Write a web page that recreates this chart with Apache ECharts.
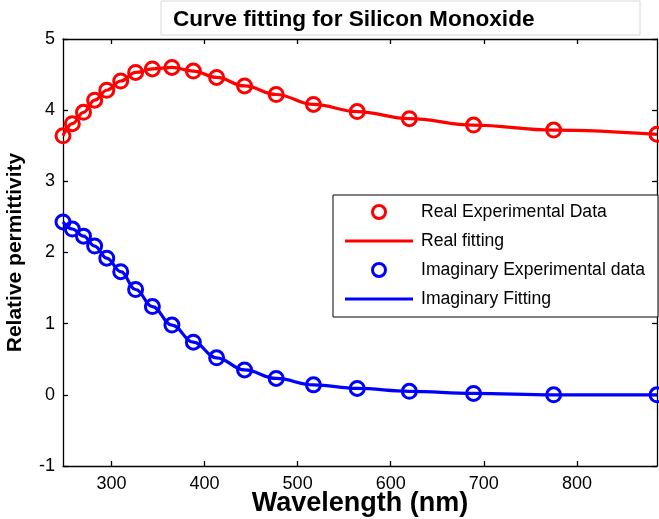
<!DOCTYPE html>
<html>
<head>
<meta charset="utf-8">
<script src="https://cdn.jsdelivr.net/npm/echarts@6/dist/echarts.min.js"></script>
<style>html,body{margin:0;padding:0;background:#fff}#c{width:659px;height:519px}</style>
</head>
<body>
<div id="c"></div>
<script>
// Wavelength (nm)
var wavelength = [248, 258, 270, 282, 295, 310, 326, 344, 365, 388, 413, 443, 477, 517, 564, 620, 689, 775, 886];
// Real part of relative permittivity (experimental)
var realData = [3.64, 3.81, 3.97, 4.14, 4.28, 4.41, 4.53, 4.58, 4.60, 4.55, 4.46, 4.34, 4.22, 4.08, 3.98, 3.88, 3.79, 3.72, 3.66];
// Imaginary part (experimental)
var imagData = [2.43, 2.33, 2.23, 2.09, 1.92, 1.73, 1.48, 1.24, 0.98, 0.74, 0.52, 0.35, 0.23, 0.14, 0.09, 0.05, 0.02, 0.00, 0.00];
var xTicks = [300, 400, 500, 600, 700, 800];
var yTicks = [-1, 0, 1, 2, 3, 4, 5];
var legendNames = ['Real Experimental Data', 'Real fitting', 'Imaginary Experimental data', 'Imaginary Fitting'];

function pairs(xs, ys) { return xs.map(function (x, i) { return [x, ys[i]]; }); }

var FONT = '"Liberation Sans", Arial, sans-serif';
var chart = echarts.init(document.getElementById('c'), null, {renderer: 'canvas'});
var lineIcon = 'path://M0,0 L68,0 L68,3 L0,3 Z';

var axisCommon = {
  axisLine: {show: true, onZero: false, lineStyle: {color: '#000', width: 1.3}},
  splitLine: {show: false}
};

chart.setOption({
  animation: false,
  backgroundColor: '#fff',
  title: {
    text: 'Curve fitting for Silicon Monoxide',
    left: 173, top: 8, padding: 0,
    textStyle: {fontFamily: FONT, fontWeight: 'bold', fontSize: 22.6, color: '#000'}
  },
  graphic: [
    {type: 'rect', left: 160.5, top: 0.5, shape: {width: 479, height: 34}, style: {fill: '#fff', stroke: '#d8d8d8', lineWidth: 1}, z: -1},
    {type: 'rect', left: 332.5, top: 194.5, shape: {width: 325, height: 122}, style: {fill: '#fff', stroke: '#000', lineWidth: 1}, z: 50}
  ],
  grid: {left: 63, right: 2, top: 39, bottom: 53, containLabel: false, outerBoundsMode: 'none'},
  legend: {
    left: 345, top: 203, orient: 'vertical', z: 60,
    itemWidth: 68, itemHeight: 13, itemGap: 11, padding: 0,
    textStyle: {fontFamily: FONT, fontSize: 17.6, color: '#000', lineHeight: 18, padding: [0, 0, 0, 3]},
    data: [
      {name: legendNames[0], icon: 'circle', itemStyle: {color: '#fff', borderColor: '#ff0000', borderWidth: 3}},
      {name: legendNames[1], icon: lineIcon, itemStyle: {color: '#ff0000', borderWidth: 0}},
      {name: legendNames[2], icon: 'circle', itemStyle: {color: '#fff', borderColor: '#0000ff', borderWidth: 3}},
      {name: legendNames[3], icon: lineIcon, itemStyle: {color: '#0000ff', borderWidth: 0}}
    ]
  },
  xAxis: [
    Object.assign({
      type: 'value', position: 'bottom', min: 248, max: 886,
      name: 'Wavelength (nm)', nameLocation: 'middle', nameGap: 24, nameMoveOverlap: false,
      nameTextStyle: {fontFamily: FONT, fontWeight: 'bold', fontSize: 27, color: '#000'},
      axisTick: {show: true, inside: true, length: 5, customValues: xTicks, lineStyle: {color: '#000', width: 1.3}},
      axisLabel: {show: true, customValues: xTicks, margin: 9, fontFamily: FONT, fontSize: 18, color: '#000'}
    }, axisCommon),
    Object.assign({
      type: 'value', position: 'top', min: 248, max: 886,
      axisTick: {show: true, inside: true, length: 5, customValues: xTicks, lineStyle: {color: '#000', width: 1.3}},
      axisLabel: {show: false}
    }, axisCommon)
  ],
  yAxis: [
    Object.assign({
      type: 'value', position: 'left', min: -1, max: 5, interval: 1,
      name: 'Relative permittivity', nameLocation: 'middle', nameGap: 37, nameMoveOverlap: false,
      nameTextStyle: {fontFamily: FONT, fontWeight: 'bold', fontSize: 21, color: '#000'},
      axisTick: {show: true, inside: true, length: 5, lineStyle: {color: '#000', width: 1.3}},
      axisLabel: {show: true, margin: 8, fontFamily: FONT, fontSize: 18, color: '#000'}
    }, axisCommon),
    Object.assign({
      type: 'value', position: 'right', min: -1, max: 5, interval: 1,
      axisTick: {show: true, inside: true, length: 5, lineStyle: {color: '#000', width: 1.3}},
      axisLabel: {show: false}
    }, axisCommon)
  ],
  series: [
    {
      name: legendNames[1], type: 'line', data: pairs(wavelength, realData),
      smooth: 0.4, smoothMonotone: 'x', showSymbol: false, symbol: 'none',
      lineStyle: {color: '#ff0000', width: 3.2}, itemStyle: {color: '#ff0000'}, z: 2
    },
    {
      name: legendNames[0], type: 'scatter', data: pairs(wavelength, realData),
      symbol: 'circle', symbolSize: 14,
      itemStyle: {color: 'rgba(0,0,0,0)', borderColor: '#ff0000', borderWidth: 3, opacity: 1}, z: 3
    },
    {
      name: legendNames[3], type: 'line', data: pairs(wavelength, imagData),
      smooth: 0.4, smoothMonotone: 'x', showSymbol: false, symbol: 'none',
      lineStyle: {color: '#0000ff', width: 3.2}, itemStyle: {color: '#0000ff'}, z: 2
    },
    {
      name: legendNames[2], type: 'scatter', data: pairs(wavelength, imagData),
      symbol: 'circle', symbolSize: 14,
      itemStyle: {color: 'rgba(0,0,0,0)', borderColor: '#0000ff', borderWidth: 3, opacity: 1}, z: 3
    }
  ]
});
</script>
</body>
</html>
